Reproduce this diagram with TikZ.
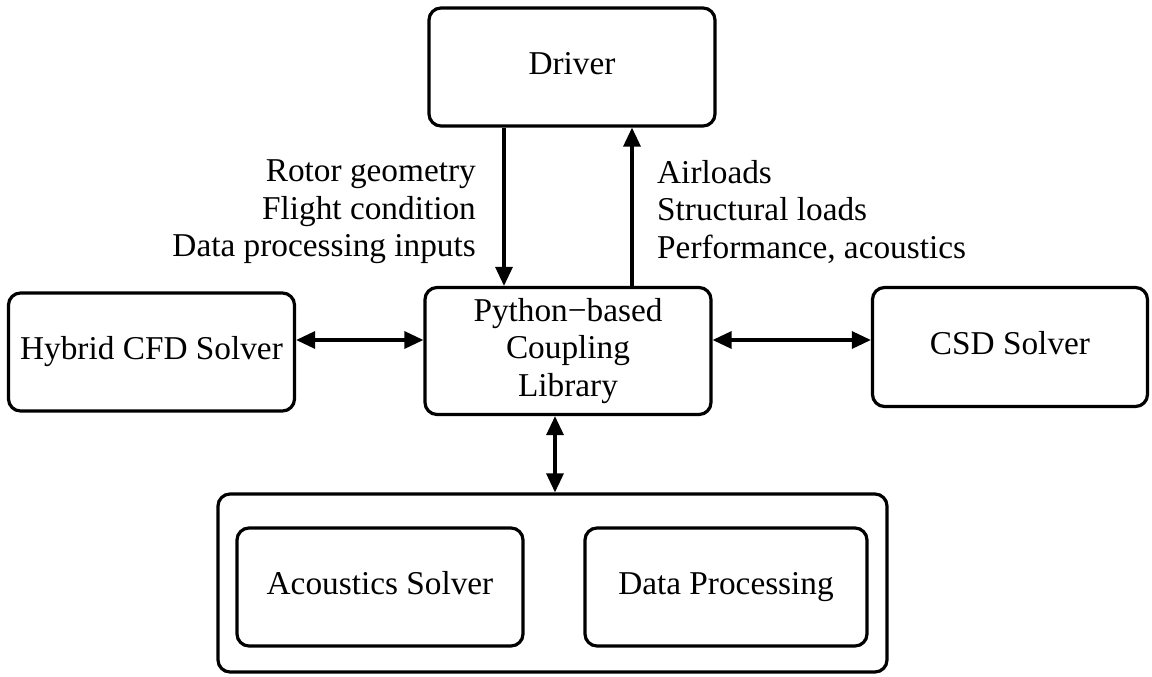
\documentclass[tikz,border=0pt]{standalone}
\usepackage{fontspec}
\setmainfont{Liberation Serif}
\usetikzlibrary{arrows.meta}
\begin{document}
\begin{tikzpicture}[x=1pt,y=-1pt,
  box/.style={draw, line width=3.2pt, rounded corners=12pt, inner sep=0pt, align=center,
    font=\fontsize{33.3}{37.5}\selectfont},
  one/.style={text height=22pt, text depth=7pt},
  lbl/.style={inner sep=0pt, font=\fontsize{33.3}{37.5}\selectfont},
  arr/.style={line width=3.2pt, -{Triangle[length=19pt,width=17pt]}},
  darr/.style={line width=3.2pt, {Triangle[length=19pt,width=17pt]}-{Triangle[length=19pt,width=17pt]}}]
\useasboundingbox (0,0) rectangle (1152,677);
\node[box, one, minimum width=286pt, minimum height=118pt] (driver) at (572,67) {Driver};
\node[box, one, minimum width=286pt, minimum height=118pt] (cfd) at (151.5,352) {Hybrid CFD Solver};
\node[box, minimum width=286pt, minimum height=127pt] (py) at (568,351) {Python−based\\Coupling\\Library};
\node[box, one, minimum width=275pt, minimum height=119pt] (csd) at (1010,347) {CSD Solver};
\node[box, minimum width=669pt, minimum height=178pt] (bot) at (552.5,583) {};
\node[box, one, minimum width=286pt, minimum height=118pt] (ac) at (380,587) {Acoustics Solver};
\node[box, one, minimum width=282pt, minimum height=118pt] (dp) at (726,587) {Data Processing};
\coordinate (dl) at (504,0);
\coordinate (ul) at (632,0);
\coordinate (vl) at (555,0);
\coordinate (hl) at (0,340);
\draw[arr] (driver.south -| dl) -- (py.north -| dl);
\draw[arr] (py.north -| ul) -- (driver.south -| ul);
\draw[darr] (cfd.east |- hl) -- (py.west |- hl);
\draw[darr] (py.east |- hl) -- (csd.west |- hl);
\draw[darr] (py.south -| vl) -- (bot.north -| vl);
\node[lbl, align=right, anchor=east] (inl) at (476,212) {Rotor geometry\\Flight condition\\Data processing inputs};
\node[lbl, align=left, anchor=west] (outl) at (657,212) {Airloads\\Structural loads\\Performance, acoustics};
\end{tikzpicture}
\end{document}
